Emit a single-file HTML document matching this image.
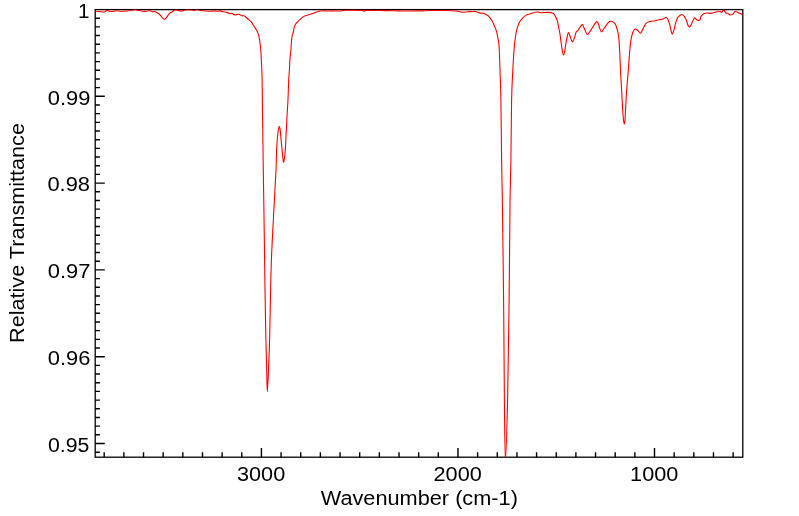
<!DOCTYPE html>
<html><head><meta charset="utf-8"><style>
html,body{margin:0;padding:0;background:#fff;width:799px;height:516px;overflow:hidden}
svg{display:block;will-change:transform}
text{font-family:"Liberation Sans", sans-serif;font-size:20px;fill:#000}
</style></head><body>
<svg width="799" height="516" viewBox="0 0 799 516">
<rect width="799" height="516" fill="#fff"/>
<defs><clipPath id="c"><rect x="95.20" y="9.50" width="647.60" height="447.70"/></clipPath></defs>
<g fill="none" stroke="#000" stroke-width="1.4">
<path d="M95.20,18.18H99.90 M95.20,26.86H99.90 M95.20,35.54H99.90 M95.20,44.22H99.90 M95.20,52.90H99.90 M95.20,61.58H99.90 M95.20,70.26H99.90 M95.20,78.94H99.90 M95.20,87.62H99.90 M95.20,96.30H104.80 M95.20,104.98H99.90 M95.20,113.66H99.90 M95.20,122.34H99.90 M95.20,131.02H99.90 M95.20,139.70H99.90 M95.20,148.38H99.90 M95.20,157.06H99.90 M95.20,165.74H99.90 M95.20,174.42H99.90 M95.20,183.10H104.80 M95.20,191.78H99.90 M95.20,200.46H99.90 M95.20,209.14H99.90 M95.20,217.82H99.90 M95.20,226.50H99.90 M95.20,235.18H99.90 M95.20,243.86H99.90 M95.20,252.54H99.90 M95.20,261.22H99.90 M95.20,269.90H104.80 M95.20,278.58H99.90 M95.20,287.26H99.90 M95.20,295.94H99.90 M95.20,304.62H99.90 M95.20,313.30H99.90 M95.20,321.98H99.90 M95.20,330.66H99.90 M95.20,339.34H99.90 M95.20,348.02H99.90 M95.20,356.70H104.80 M95.20,365.38H99.90 M95.20,374.06H99.90 M95.20,382.74H99.90 M95.20,391.42H99.90 M95.20,400.10H99.90 M95.20,408.78H99.90 M95.20,417.46H99.90 M95.20,426.14H99.90 M95.20,434.82H99.90 M95.20,443.50H104.80 M95.20,452.18H99.90 M104.20,457.20V452.30 M123.85,457.20V452.30 M143.51,457.20V452.30 M163.16,457.20V452.30 M182.81,457.20V452.30 M202.47,457.20V452.30 M222.12,457.20V452.30 M241.78,457.20V452.30 M261.43,457.20V448.00 M281.08,457.20V452.30 M300.74,457.20V452.30 M320.39,457.20V452.30 M340.05,457.20V452.30 M359.70,457.20V452.30 M379.35,457.20V452.30 M399.01,457.20V452.30 M418.66,457.20V452.30 M438.32,457.20V452.30 M457.97,457.20V448.00 M477.62,457.20V452.30 M497.28,457.20V452.30 M516.93,457.20V452.30 M536.59,457.20V452.30 M556.24,457.20V452.30 M575.89,457.20V452.30 M595.55,457.20V452.30 M615.20,457.20V452.30 M634.86,457.20V452.30 M654.51,457.20V448.00 M674.16,457.20V452.30 M693.82,457.20V452.30 M713.47,457.20V452.30 M733.13,457.20V452.30"/>
</g>
<rect x="95.20" y="9.6" width="647.60" height="447.60" fill="none" stroke="#000" stroke-width="1.3"/>
<path clip-path="url(#c)" d="M95.20,11.26 C95.93,11.32 98.05,11.48 99.60,11.60 C101.15,11.72 103.30,12.22 104.50,12.00 C105.70,11.78 105.92,10.42 106.80,10.30 C107.68,10.18 108.68,11.08 109.80,11.26 C110.92,11.44 112.38,11.49 113.50,11.40 C114.62,11.31 115.37,10.72 116.50,10.70 C117.63,10.68 119.05,11.18 120.30,11.26 C121.55,11.34 122.78,11.23 124.00,11.20 C125.22,11.17 126.37,11.22 127.60,11.07 C128.83,10.92 130.15,10.55 131.40,10.30 C132.65,10.05 134.03,9.63 135.10,9.60 C136.17,9.57 136.53,9.82 137.80,10.10 C139.07,10.38 141.27,11.07 142.70,11.26 C144.13,11.45 145.35,11.35 146.40,11.26 C147.45,11.17 148.15,10.71 149.00,10.70 C149.85,10.69 150.87,11.02 151.50,11.20 C152.13,11.38 152.30,11.73 152.80,11.76 C153.30,11.79 153.97,11.34 154.50,11.40 C155.03,11.46 155.32,11.76 156.00,12.10 C156.68,12.44 157.85,12.92 158.60,13.45 C159.35,13.98 159.93,14.64 160.50,15.30 C161.07,15.96 161.50,16.80 162.00,17.40 C162.50,18.00 163.07,18.62 163.50,18.90 C163.93,19.18 164.17,19.23 164.60,19.10 C165.03,18.97 165.60,18.63 166.10,18.10 C166.60,17.57 167.03,16.68 167.60,15.90 C168.17,15.12 168.80,14.08 169.50,13.45 C170.20,12.82 171.05,12.57 171.80,12.10 C172.55,11.62 173.25,10.97 174.00,10.60 C174.75,10.23 175.13,9.83 176.30,9.90 C177.47,9.97 179.47,10.98 181.00,11.00 C182.53,11.02 184.33,10.23 185.50,10.00 C186.67,9.77 186.92,9.60 188.00,9.60 C189.08,9.60 190.92,9.87 192.00,10.00 C193.08,10.13 193.67,10.44 194.50,10.40 C195.33,10.36 196.00,9.73 197.00,9.75 C198.00,9.77 199.08,10.29 200.50,10.50 C201.92,10.71 203.92,10.88 205.50,11.00 C207.08,11.12 208.58,11.25 210.00,11.25 C211.42,11.25 212.67,11.01 214.00,11.00 C215.33,10.99 217.00,11.22 218.00,11.20 C219.00,11.18 219.08,10.81 220.00,10.90 C220.92,10.99 222.33,11.50 223.50,11.75 C224.67,12.00 226.00,12.09 227.00,12.40 C228.00,12.71 228.75,13.43 229.50,13.60 C230.25,13.77 230.58,13.17 231.50,13.40 C232.42,13.63 233.83,14.86 235.00,15.00 C236.17,15.14 237.33,14.12 238.50,14.25 C239.67,14.38 241.00,15.46 242.00,15.75 C243.00,16.04 243.50,15.46 244.50,16.00 C245.50,16.54 246.83,17.97 248.00,19.00 C249.17,20.03 250.47,20.97 251.50,22.20 C252.53,23.43 253.37,25.08 254.20,26.40 C255.03,27.72 255.78,28.72 256.50,30.10 C257.22,31.48 257.98,33.02 258.50,34.70 C259.02,36.38 259.28,38.25 259.60,40.20 C259.92,42.15 260.17,44.33 260.40,46.40 C260.63,48.47 260.85,50.33 261.00,52.60 C261.15,54.87 261.17,57.10 261.30,60.00 C261.43,62.90 261.67,66.67 261.80,70.00 C261.93,73.33 261.97,71.67 262.10,80.00 C262.23,88.33 262.40,105.00 262.60,120.00 C262.80,135.00 263.03,151.67 263.30,170.00 C263.57,188.33 263.92,210.00 264.20,230.00 C264.48,250.00 264.72,271.67 265.00,290.00 C265.28,308.33 265.62,326.67 265.90,340.00 C266.18,353.33 266.47,361.38 266.70,370.00 C266.93,378.62 267.00,391.70 267.30,391.70 C267.60,391.70 268.12,378.62 268.50,370.00 C268.88,361.38 269.25,353.33 269.60,340.00 C269.95,326.67 270.30,303.33 270.60,290.00 C270.90,276.67 271.03,270.00 271.40,260.00 C271.77,250.00 272.30,240.00 272.80,230.00 C273.30,220.00 273.87,210.00 274.40,200.00 C274.93,190.00 275.68,176.33 276.00,170.00 C276.32,163.67 276.20,165.33 276.30,162.00 C276.40,158.67 276.42,154.00 276.60,150.00 C276.78,146.00 277.12,141.33 277.40,138.00 C277.68,134.67 277.98,131.90 278.30,130.00 C278.62,128.10 278.97,126.43 279.30,126.60 C279.63,126.77 280.03,129.10 280.30,131.00 C280.57,132.90 280.60,134.83 280.90,138.00 C281.20,141.17 281.75,146.50 282.10,150.00 C282.45,153.50 282.73,156.98 283.00,159.00 C283.27,161.02 283.45,162.27 283.70,162.10 C283.95,161.93 284.23,160.02 284.50,158.00 C284.77,155.98 285.07,153.28 285.30,150.00 C285.53,146.72 285.70,142.20 285.90,138.30 C286.10,134.40 286.30,130.48 286.50,126.60 C286.70,122.72 286.85,119.53 287.10,115.00 C287.35,110.47 287.73,105.23 288.00,99.40 C288.27,93.57 288.47,84.90 288.70,80.00 C288.93,75.10 289.20,73.33 289.40,70.00 C289.60,66.67 289.65,63.33 289.90,60.00 C290.15,56.67 290.62,53.33 290.90,50.00 C291.18,46.67 291.37,42.50 291.60,40.00 C291.83,37.50 292.02,36.33 292.30,35.00 C292.58,33.67 292.95,33.40 293.30,32.00 C293.65,30.60 293.87,28.12 294.40,26.60 C294.93,25.08 295.68,23.98 296.50,22.90 C297.32,21.82 298.28,21.03 299.30,20.10 C300.32,19.17 301.60,18.03 302.60,17.30 C303.60,16.57 304.15,16.17 305.30,15.70 C306.45,15.23 308.17,14.90 309.50,14.50 C310.83,14.10 312.22,13.68 313.30,13.30 C314.38,12.92 314.88,12.58 316.00,12.20 C317.12,11.82 318.83,11.25 320.00,11.00 C321.17,10.75 322.07,10.70 323.00,10.70 C323.93,10.70 324.12,10.97 325.60,11.00 C327.08,11.03 329.50,10.90 331.90,10.90 C334.30,10.90 337.82,11.12 340.00,11.00 C342.18,10.88 341.33,10.30 345.00,10.20 C348.67,10.10 358.83,10.23 362.00,10.40 C365.17,10.57 363.17,11.20 364.00,11.20 C364.83,11.20 364.33,10.52 367.00,10.40 C369.67,10.28 375.50,10.43 380.00,10.50 C384.50,10.57 390.00,10.72 394.00,10.80 C398.00,10.88 399.67,10.98 404.00,11.00 C408.33,11.02 415.67,10.98 420.00,10.90 C424.33,10.82 426.00,10.57 430.00,10.50 C434.00,10.43 440.42,10.46 444.00,10.50 C447.58,10.54 449.17,10.62 451.50,10.75 C453.83,10.88 456.17,11.00 458.00,11.25 C459.83,11.50 460.83,12.17 462.50,12.25 C464.17,12.33 465.92,11.88 468.00,11.75 C470.08,11.62 473.00,11.29 475.00,11.50 C477.00,11.71 478.65,12.70 480.00,13.00 C481.35,13.30 482.07,13.03 483.10,13.30 C484.13,13.57 485.17,14.00 486.20,14.60 C487.23,15.20 488.27,15.73 489.30,16.90 C490.33,18.07 491.50,19.98 492.40,21.60 C493.30,23.22 493.98,24.87 494.70,26.60 C495.42,28.33 496.18,30.18 496.70,32.00 C497.22,33.82 497.48,35.82 497.80,37.50 C498.12,39.18 498.37,40.35 498.60,42.10 C498.83,43.85 498.97,43.35 499.20,48.00 C499.43,52.65 499.72,61.33 500.00,70.00 C500.28,78.67 500.63,85.00 500.90,100.00 C501.17,115.00 501.35,142.67 501.60,160.00 C501.85,177.33 502.05,179.00 502.40,204.00 C502.75,229.00 503.37,277.33 503.70,310.00 C504.03,342.67 504.12,375.00 504.40,400.00 C504.68,425.00 504.87,460.00 505.40,460.00 C505.93,460.00 507.00,425.00 507.60,400.00 C508.20,375.00 508.60,342.67 509.00,310.00 C509.40,277.33 509.68,229.00 510.00,204.00 C510.32,179.00 510.63,177.33 510.90,160.00 C511.17,142.67 511.28,115.00 511.60,100.00 C511.92,85.00 512.37,78.67 512.80,70.00 C513.23,61.33 513.83,52.90 514.20,48.00 C514.57,43.10 514.68,43.13 515.00,40.60 C515.32,38.07 515.65,35.13 516.10,32.80 C516.55,30.47 517.12,28.40 517.70,26.60 C518.28,24.80 518.88,23.28 519.60,22.00 C520.32,20.72 520.97,20.00 522.00,18.90 C523.03,17.80 524.38,16.25 525.80,15.40 C527.22,14.55 528.95,14.32 530.50,13.80 C532.05,13.28 533.85,12.60 535.10,12.30 C536.35,12.00 537.02,11.93 538.00,12.00 C538.98,12.07 539.33,12.63 541.00,12.70 C542.67,12.77 546.00,12.30 548.00,12.40 C550.00,12.50 551.83,12.77 553.00,13.30 C554.17,13.83 554.30,14.43 555.00,15.60 C555.70,16.77 556.63,18.55 557.20,20.30 C557.77,22.05 557.93,23.78 558.40,26.10 C558.87,28.42 559.50,31.10 560.00,34.20 C560.50,37.30 560.98,41.73 561.40,44.70 C561.82,47.67 562.15,50.28 562.50,52.00 C562.85,53.72 563.15,55.00 563.50,55.00 C563.85,55.00 564.23,53.72 564.60,52.00 C564.97,50.28 565.27,47.27 565.70,44.70 C566.13,42.13 566.75,38.63 567.20,36.60 C567.65,34.57 567.93,32.60 568.40,32.50 C568.87,32.40 569.35,34.45 570.00,36.00 C570.65,37.55 571.57,41.52 572.30,41.80 C573.03,42.08 573.75,39.35 574.40,37.70 C575.05,36.05 575.60,33.10 576.20,31.90 C576.80,30.70 577.23,31.47 578.00,30.50 C578.77,29.53 580.03,27.07 580.80,26.10 C581.57,25.13 582.02,24.32 582.60,24.70 C583.18,25.08 583.53,26.77 584.30,28.40 C585.07,30.03 586.25,34.02 587.20,34.50 C588.15,34.98 589.13,32.42 590.00,31.30 C590.87,30.18 591.32,29.40 592.40,27.80 C593.48,26.20 595.52,22.37 596.50,21.70 C597.48,21.03 597.72,22.58 598.30,23.80 C598.88,25.02 599.43,27.65 600.00,29.00 C600.57,30.35 601.03,32.00 601.70,31.90 C602.37,31.80 603.12,29.67 604.00,28.40 C604.88,27.13 606.00,25.47 607.00,24.30 C608.00,23.13 608.83,21.68 610.00,21.40 C611.17,21.12 613.00,21.92 614.00,22.60 C615.00,23.28 615.25,23.37 616.00,25.50 C616.75,27.63 617.90,31.32 618.50,35.40 C619.10,39.48 619.27,44.23 619.60,50.00 C619.93,55.77 620.17,63.33 620.50,70.00 C620.83,76.67 621.23,83.33 621.60,90.00 C621.97,96.67 622.38,105.00 622.70,110.00 C623.02,115.00 623.23,117.65 623.50,120.00 C623.77,122.35 624.05,124.10 624.30,124.10 C624.55,124.10 624.80,122.35 625.00,120.00 C625.20,117.65 625.22,115.00 625.50,110.00 C625.78,105.00 626.23,96.67 626.70,90.00 C627.17,83.33 627.78,76.67 628.30,70.00 C628.82,63.33 629.43,54.53 629.80,50.00 C630.17,45.47 630.13,45.30 630.50,42.80 C630.87,40.30 631.42,37.13 632.00,35.00 C632.58,32.87 633.33,30.97 634.00,30.00 C634.67,29.03 635.33,29.08 636.00,29.20 C636.67,29.32 637.25,30.02 638.00,30.70 C638.75,31.38 639.67,33.62 640.50,33.30 C641.33,32.98 642.08,30.45 643.00,28.80 C643.92,27.15 644.83,24.63 646.00,23.40 C647.17,22.17 648.50,21.85 650.00,21.40 C651.50,20.95 653.33,21.02 655.00,20.70 C656.67,20.38 658.67,19.77 660.00,19.50 C661.33,19.23 662.00,19.48 663.00,19.10 C664.00,18.72 665.17,17.13 666.00,17.20 C666.83,17.27 667.33,18.08 668.00,19.50 C668.67,20.92 669.33,23.32 670.00,25.70 C670.67,28.08 671.33,33.15 672.00,33.80 C672.67,34.45 673.33,31.60 674.00,29.60 C674.67,27.60 675.33,23.87 676.00,21.80 C676.67,19.73 677.00,18.42 678.00,17.20 C679.00,15.98 680.83,14.45 682.00,14.50 C683.17,14.55 684.17,16.25 685.00,17.50 C685.83,18.75 686.50,20.68 687.00,22.00 C687.50,23.32 687.50,24.58 688.00,25.40 C688.50,26.22 689.33,27.33 690.00,26.90 C690.67,26.47 691.25,24.30 692.00,22.80 C692.75,21.30 693.67,18.35 694.50,17.90 C695.33,17.45 696.08,19.78 697.00,20.10 C697.92,20.42 699.33,20.42 700.00,19.80 C700.67,19.18 700.33,17.47 701.00,16.40 C701.67,15.33 702.83,13.97 704.00,13.40 C705.17,12.83 706.83,13.00 708.00,13.00 C709.17,13.00 709.83,13.52 711.00,13.40 C712.17,13.28 713.67,12.62 715.00,12.30 C716.33,11.98 717.83,11.53 719.00,11.50 C720.17,11.47 721.25,12.42 722.00,12.10 C722.75,11.78 722.83,9.45 723.50,9.60 C724.17,9.75 725.25,12.37 726.00,13.00 C726.75,13.63 727.33,13.08 728.00,13.40 C728.67,13.72 729.17,14.78 730.00,14.90 C730.83,15.02 732.17,14.67 733.00,14.10 C733.83,13.53 734.17,11.75 735.00,11.50 C735.83,11.25 737.00,12.22 738.00,12.60 C739.00,12.98 740.20,13.35 741.00,13.80 C741.80,14.25 742.50,15.05 742.80,15.30" fill="none" stroke="#ff0000" stroke-width="1.1" stroke-linejoin="round"/>
<text x="89.60" y="18.00" text-anchor="end" textLength="11.5" lengthAdjust="spacingAndGlyphs">1</text>
<text x="90.40" y="104.80" text-anchor="end" textLength="42.6" lengthAdjust="spacingAndGlyphs">0.99</text>
<text x="90.00" y="191.00" text-anchor="end" textLength="42.6" lengthAdjust="spacingAndGlyphs">0.98</text>
<text x="90.40" y="278.40" text-anchor="end" textLength="42.6" lengthAdjust="spacingAndGlyphs">0.97</text>
<text x="90.40" y="365.20" text-anchor="end" textLength="42.6" lengthAdjust="spacingAndGlyphs">0.96</text>
<text x="89.40" y="452.00" text-anchor="end" textLength="41.4" lengthAdjust="spacingAndGlyphs">0.95</text>
<text x="261.13" y="481" text-anchor="middle" textLength="48.2" lengthAdjust="spacingAndGlyphs">3000</text>
<text x="457.67" y="481" text-anchor="middle" textLength="48.2" lengthAdjust="spacingAndGlyphs">2000</text>
<text x="654.21" y="481" text-anchor="middle" textLength="48.2" lengthAdjust="spacingAndGlyphs">1000</text>
<text x="419.3" y="504.8" text-anchor="middle" textLength="197.2" lengthAdjust="spacingAndGlyphs">Wavenumber (cm-1)</text>
<text transform="translate(23.6,233) rotate(-90)" x="0" y="0" text-anchor="middle" textLength="219.8" lengthAdjust="spacingAndGlyphs">Relative Transmittance</text>
</svg>
</body></html>
